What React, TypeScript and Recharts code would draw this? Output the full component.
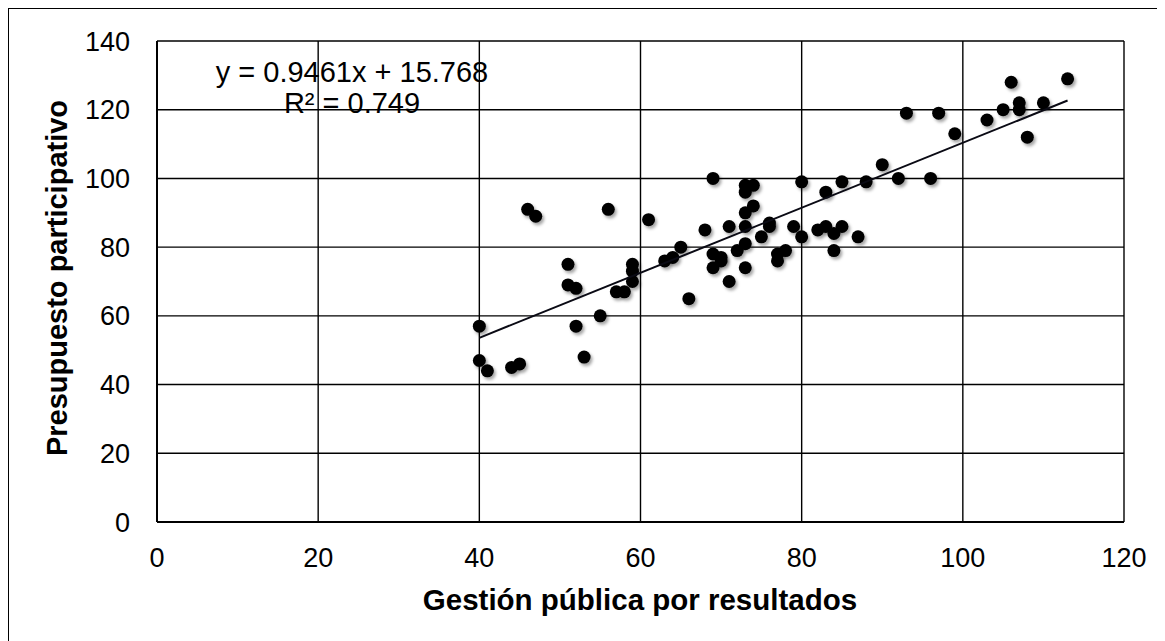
import React from "react";
import {
  ScatterChart,
  Scatter,
  XAxis,
  YAxis,
  CartesianGrid,
} from "recharts";

// Gestión pública por resultados (x) vs Presupuesto participativo (y)
const gestion = [
  40, 40, 41, 44, 45, 46, 47, 51, 51, 52, 52, 53, 55, 56, 57, 58, 59, 59, 59,
  61, 63, 64, 65, 66, 68, 69, 69, 69, 70, 70, 71, 71, 72, 73, 73, 73, 73, 73,
  73, 74, 74, 75, 76, 76, 77, 77, 78, 79, 80, 80, 82, 83, 83, 84, 84, 85, 85,
  87, 88, 90, 92, 93, 96, 97, 99, 103, 105, 106, 107, 107, 108, 110, 113,
];
const presupuesto = [
  57, 47, 44, 45, 46, 91, 89, 75, 69, 68, 57, 48, 60, 91, 67, 67, 75, 73, 70,
  88, 76, 77, 80, 65, 85, 100, 78, 74, 77, 76, 86, 70, 79, 98, 96, 90, 86, 81,
  74, 98, 92, 83, 87, 86, 78, 76, 79, 86, 99, 83, 85, 96, 86, 84, 79, 99, 86,
  83, 99, 104, 100, 119, 100, 119, 113, 117, 120, 128, 122, 120, 112, 122, 129,
];

const xTicks = [0, 20, 40, 60, 80, 100, 120];
const yTicks = [0, 20, 40, 60, 80, 100, 120, 140];

// linear trend shown on the chart
const slope = 0.9461;
const intercept = 15.768;
const trendRange = [40, 113];

const points = gestion.map((x, i) => ({ x, y: presupuesto[i] }));
const trend = trendRange.map((x) => ({ x, y: slope * x + intercept }));

const FONT = '"Liberation Sans", Arial, sans-serif';

const Dot = (props: any) => {
  const { cx, cy } = props;
  return (
    <circle cx={cx} cy={cy} r={6.5} fill="#000" filter="url(#dotShadow)" />
  );
};

export default function App() {
  return (
    <div style={{ position: "relative", width: 1157, height: 633 }}>
      <svg width={0} height={0} style={{ position: "absolute" }}>
        <defs>
          <filter id="dotShadow" x="-60%" y="-60%" width="220%" height="220%">
            <feDropShadow
              dx={2}
              dy={2.5}
              stdDeviation={1.6}
              floodColor="#000"
              floodOpacity={0.35}
            />
          </filter>
        </defs>
      </svg>
      <div
        style={{
          position: "absolute",
          left: -1,
          top: -1,
          width: 1158,
          height: 634,
          borderLeft: "2px solid #000",
          borderTop: "2px solid #000",
          boxSizing: "border-box",
        }}
      />
      <ScatterChart
        width={1157}
        height={633}
        margin={{ top: 33, right: 41, bottom: 0, left: 0 }}
        style={{ fontFamily: FONT }}
      >
        <CartesianGrid stroke="#000" strokeWidth={1.4} />
        <XAxis
          type="number"
          dataKey="x"
          domain={[0, 120]}
          ticks={xTicks}
          height={119}
          tickSize={0}
          tickMargin={26}
          axisLine={{ stroke: "#000", strokeWidth: 2 }}
          tickLine={false}
          tick={{ fill: "#000", fontSize: 27, fontFamily: FONT }}
        />
        <YAxis
          type="number"
          dataKey="y"
          domain={[0, 140]}
          ticks={yTicks}
          width={149}
          tickSize={0}
          tickMargin={27}
          axisLine={{ stroke: "#000", strokeWidth: 2 }}
          tickLine={false}
          tick={{ fill: "#000", fontSize: 27, fontFamily: FONT }}
        />
        <Scatter
          data={points}
          shape={Dot}
          isAnimationActive={false}
        />
        <Scatter
          data={trend}
          line={{ stroke: "#0a0a14", strokeWidth: 2 }}
          shape={() => <g />}
          isAnimationActive={false}
        />
      </ScatterChart>
      <svg
        width={1157}
        height={633}
        style={{ position: "absolute", left: 0, top: 0, pointerEvents: "none" }}
      >
        <text
          x={344}
          y={74}
          textAnchor="middle"
          fontFamily={FONT}
          fontSize={29}
          fill="#000"
        >
          y = 0.9461x + 15.768
        </text>
        <text
          x={344}
          y={105}
          textAnchor="middle"
          fontFamily={FONT}
          fontSize={29}
          fill="#000"
        >
          R² = 0.749
        </text>
        <text
          x={632}
          y={602}
          textAnchor="middle"
          fontFamily={FONT}
          fontSize={29.5}
          fontWeight="bold"
          fill="#000"
        >
          Gestión pública por resultados
        </text>
        <text
          transform="translate(59 270) rotate(-90)"
          textAnchor="middle"
          fontFamily={FONT}
          fontSize={29}
          fontWeight="bold"
          fill="#000"
        >
          Presupuesto participativo
        </text>
      </svg>
    </div>
  );
}
